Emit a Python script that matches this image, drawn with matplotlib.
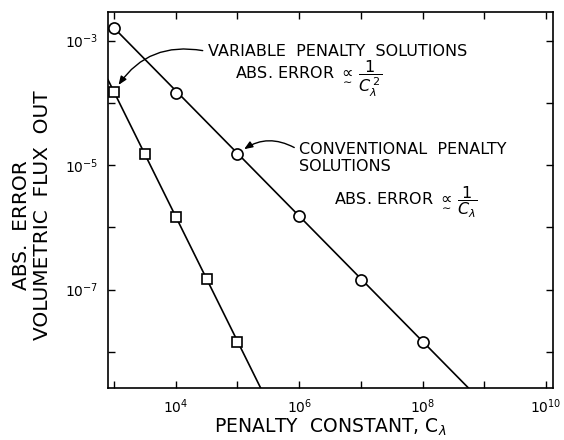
import matplotlib
matplotlib.use("Agg")
import matplotlib.pyplot as plt

plt.rcParams['font.family'] = ['DejaVu Sans']
plt.rcParams['mathtext.fontset'] = 'dejavusans'

# conventional penalty solutions (circles)
conv_x = [1e3, 1e4, 1e5, 1e6, 1e7, 1e8]
conv_y = [1.6e-3, 1.45e-4, 1.5e-5, 1.5e-6, 1.45e-7, 1.45e-8]
# straight-line fit drawn through them, running off the bottom of the frame
conv_fit_x = [1e3, 1e9]
conv_fit_y = [1.6e-3, 1.45e-9]

# variable penalty solutions (squares)
var_x = [1e3, 3.2e3, 1e4, 3.2e4, 1e5]
var_y = [1.5e-4, 1.5e-5, 1.45e-6, 1.5e-7, 1.45e-8]
var_fit_x = [8e2, 3.2e5]
var_fit_y = [2.35e-4, 1.45e-9]

xticks = [1e3, 1e4, 1e5, 1e6, 1e7, 1e8, 1e9, 1e10]
xlabels = ['', r'$10^4$', '', r'$10^6$', '', r'$10^8$', '', r'$10^{10}$']
yticks = [1e-8, 1e-7, 1e-6, 1e-5, 1e-4, 1e-3]
ylabels = ['', r'$10^{-7}$', '', r'$10^{-5}$', '', r'$10^{-3}$']

fig = plt.figure(figsize=(5.64, 4.40), dpi=100)
ax = fig.add_axes([0.1915, 0.1182, 0.789, 0.8545])

ax.plot(conv_fit_x, conv_fit_y, color='black', lw=1.2)
ax.plot(var_fit_x, var_fit_y, color='black', lw=1.2)
ax.plot(conv_x, conv_y, 'o', ms=8, mfc='white', mec='black', mew=1.2)
ax.plot(var_x, var_y, 's', ms=7.5, mfc='white', mec='black', mew=1.2)

ax.set_xscale('log')
ax.set_yscale('log')
ax.set_xlim(10**2.903, 10**10.113)
ax.set_ylim(10**-8.58, 10**-2.54)

ax.set_xticks(xticks)
ax.set_xticklabels(xlabels, fontsize=10)
ax.set_yticks(yticks)
ax.set_yticklabels(ylabels, fontsize=10)
ax.minorticks_off()
ax.tick_params(which='major', direction='in', length=5, width=1,
               top=True, right=True, pad=7)
for s in ax.spines.values():
    s.set_linewidth(1.2)

ax.set_xlabel(r'PENALTY  CONSTANT, C$_\lambda$', fontsize=13.5, labelpad=0)
fig.text(0.039, 0.489, 'ABS.  ERROR', rotation=90, fontsize=14.5,
         ha='center', va='center')
fig.text(0.076, 0.51, 'VOLUMETRIC  FLUX  OUT', rotation=90, fontsize=14.5,
         ha='center', va='center')

tkw = dict(transform=ax.transAxes, fontsize=11.5, ha='left')
ax.text(0.225, 0.896, 'VARIABLE  PENALTY  SOLUTIONS', va='center', **tkw)
ax.text(0.285, 0.819,
        r'ABS. ERROR $\underset{\sim}{\propto}\,\dfrac{1}{C_\lambda^{\,2}}$',
        va='baseline', **tkw)
ax.text(0.429, 0.633, 'CONVENTIONAL  PENALTY', va='center', **tkw)
ax.text(0.429, 0.588, 'SOLUTIONS', va='center', **tkw)
ax.text(0.508, 0.487,
        r'ABS. ERROR $\underset{\sim}{\propto}\,\dfrac{1}{C_\lambda}$',
        va='baseline', **tkw)

akw = dict(arrowstyle='-|>,head_length=0.5,head_width=0.2', color='black',
           lw=1.0, shrinkA=2, shrinkB=6)
ax.annotate('', xy=(var_x[0], var_y[0]), xytext=(0.219, 0.896),
            textcoords='axes fraction',
            arrowprops=dict(connectionstyle='arc3,rad=0.35', **akw))
ax.annotate('', xy=(conv_x[2], conv_y[2]), xytext=(0.424, 0.636),
            textcoords='axes fraction',
            arrowprops=dict(connectionstyle='arc3,rad=0.35', **akw))

fig.savefig('out.png', dpi=100)
